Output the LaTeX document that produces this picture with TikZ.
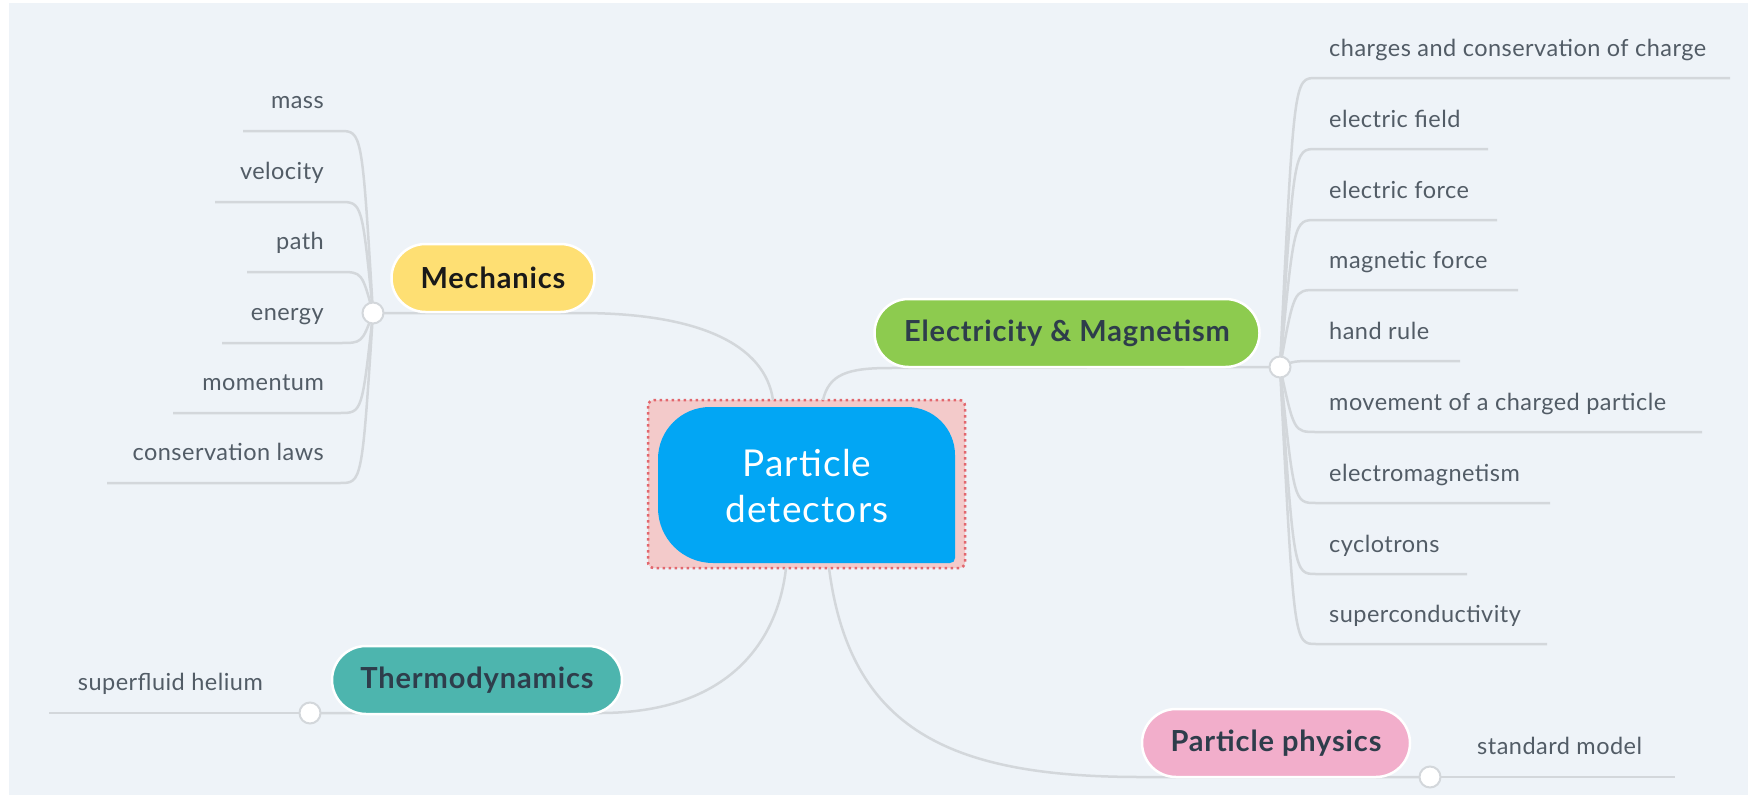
\documentclass[tikz,border=0pt]{standalone}
\usepackage{fontspec}
\setmainfont{Lato}
\newfontfamily\subfont[LetterSpace=2]{Lato}
\newfontfamily\topfont[LetterSpace=3]{Lato}
\definecolor{bg}{HTML}{EEF3F8}
\definecolor{lineg}{HTML}{D3D7DB}
\definecolor{subtext}{HTML}{525C66}
\definecolor{topictext}{HTML}{2E3D4B}
\definecolor{mechfill}{HTML}{FEDF73}
\definecolor{emfill}{HTML}{8DCB4F}
\definecolor{thermofill}{HTML}{4DB5AE}
\definecolor{ppfill}{HTML}{F2AECB}
\definecolor{centralblue}{HTML}{02A6F4}
\definecolor{selfill}{HTML}{F3CACA}
\definecolor{seldot}{HTML}{E2676E}
\begin{document}
\begin{tikzpicture}[x=1pt,y=-1pt,
  conn/.style={draw=lineg, line width=2.5pt},
  hub/.style={circle, fill=white, draw=lineg, line width=2pt, minimum size=21pt, inner sep=0pt},
  topic/.style={rounded corners=34pt, minimum height=68pt, draw=white, line width=2.5pt,
    font=\topfont\fontsize{29}{34}\selectfont\bfseries, text=topictext, inner sep=0pt},
  sub/.style={font=\subfont\fontsize{23.5}{28}\selectfont, text=subtext, inner sep=0pt}]
\useasboundingbox (0,0) rectangle (1748,795);
\fill[white] (0,0) rectangle (1748,795);
\fill[bg] (9,3) rectangle (1748,795);

% central selection box and shape
\fill[selfill] (648,400) [rounded corners=6pt] rectangle (965,568);
\draw[seldot, line width=2.5pt, dash pattern=on 2.5pt off 3.5pt, rounded corners=6pt] (648,400) rectangle (965,568);
\fill[centralblue] (710,407) -- (907,407) .. controls (933.5,407) and (955,428.5) .. (955,455)
  -- (955,558) .. controls (955,561) and (953,563) .. (950,563)
  -- (713,563) .. controls (682.6,563) and (658,538.4) .. (658,508)
  -- (658,459) .. controls (658,430.3) and (681.3,407) .. (710,407) -- cycle;
\node[font=\topfont\fontsize{37}{46}\selectfont, text=white, align=center, inner sep=0pt] (pd) at (807,486) {Particle\\detectors};

\coordinate (pdTL) at (773,400);
\coordinate (pdTR) at (823,400);
\coordinate (pdBL) at (786,568);
\coordinate (pdBR) at (829,568);

% hubs positions
\coordinate (mcpos) at (373,313);
\coordinate (empos) at (1280,367);
\coordinate (tcpos) at (310,713);
\coordinate (ppcpos) at (1430,777);

% main connectors
\draw[conn] (mcpos) -- (580,313) .. controls (700,313) and (765,345) .. (pdTL);
\draw[conn] (pdTR) .. controls (829,374) and (848,368) .. (890,368) -- (empos);
\draw[conn] (tcpos) -- (600,713) .. controls (730,713) and (778,640) .. (pdBL);
\draw[conn] (pdBR) .. controls (850,730) and (950,777) .. (1141,777) -- (ppcpos);

% Mechanics subtopics
\foreach \y/\xe/\t/\n in {131/243/mass/1, 202/215/velocity/2, 272/247/path/3, 343/222/energy/4, 413/173/momentum/5, 483/107/conservation laws/6}{
  \node[sub, anchor=base east] (m\n) at (324,\y-23) {\t};
  \coordinate (me\n) at (\xe,\y);
  \draw[conn] (mcpos) .. controls (362,\y) .. (340,\y) -- (me\n);
}

% E&M subtopics
\foreach \y/\xe/\t/\n in {78/1730/charges and conservation of charge/1, 149/1488/electric field/2, 220/1497/electric force/3, 290/1518/magnetic force/4, 361/1460/hand rule/5, 432/1702/movement of a charged particle/6, 503/1550/electromagnetism/7, 574/1467/cyclotrons/8, 644/1547/superconductivity/9}{
  \node[sub, anchor=base west] (e\n) at (1329,\y-22) {\t};
  \coordinate (ee\n) at (\xe,\y);
  \draw[conn] (empos) .. controls (1294,\y) .. (1316,\y) -- (ee\n);
}

% Thermodynamics subtopic
\node[sub, anchor=base east] (t1) at (263,690) {superfluid helium};
\coordinate (te1) at (49,713);
\draw[conn] (tcpos) -- (te1);

% Particle physics subtopic
\node[sub, anchor=base west] (p1) at (1477,754) {standard model};
\coordinate (pe1) at (1675,777);
\draw[conn] (ppcpos) -- (pe1);

% topic nodes
\node[topic, fill=mechfill, minimum width=203pt, text=black!90] (mech) at (493,278) {Mechanics};
\node[topic, fill=emfill, minimum width=385pt] (em) at (1067,333) {Electricity \& Magnetism};
\node[topic, fill=thermofill, minimum width=290pt] (thermo) at (477,680) {Thermodynamics};
\node[topic, fill=ppfill, minimum width=268pt] (pp) at (1276,743) {Particle physics};

% hubs
\node[hub] (mc) at (mcpos) {};
\node[hub] (emc) at (empos) {};
\node[hub] (tc) at (tcpos) {};
\node[hub] (ppc) at (ppcpos) {};
\end{tikzpicture}
\end{document}
